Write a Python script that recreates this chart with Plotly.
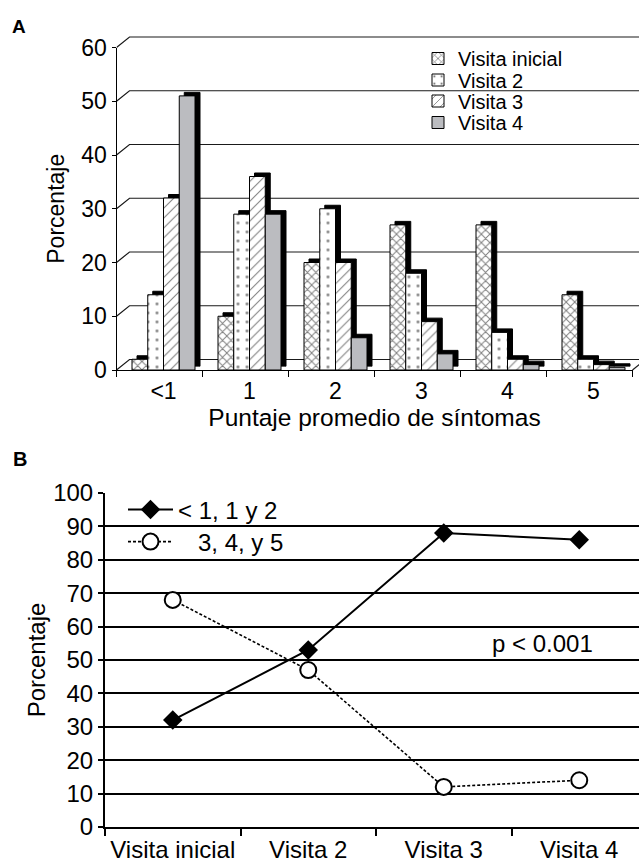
import plotly.graph_objects as go

W, H = 639, 862

# ---------------- Data ----------------
score_categories = ["<1", "1", "2", "3", "4", "5"]
visit_names = ["Visita inicial", "Visita 2", "Visita 3", "Visita 4"]
pct_visita_inicial = [2, 10, 20, 27, 27, 14]
pct_visita_2 = [14, 29, 30, 18, 7, 2]
pct_visita_3 = [32, 36, 20, 9, 2, 1]
pct_visita_4 = [51, 29, 6, 3, 1, 0.5]
bar_y_ticks = [0, 10, 20, 30, 40, 50, 60]

visit_categories = ["Visita inicial", "Visita 2", "Visita 3", "Visita 4"]
series_low_name = "< 1, 1 y 2"
series_high_name = "3, 4, y 5"
pct_low_scores = [32, 53, 88, 86]
pct_high_scores = [68, 47, 12, 14]
line_y_ticks = [0, 10, 20, 30, 40, 50, 60, 70, 80, 90, 100]

# ---------------- Styling ----------------
FONT = "Liberation Sans, Arial, Helvetica, sans-serif"
patterns = [
    dict(shape="x", size=6, solidity=0.3, fgcolor="black", bgcolor="white"),
    dict(shape=".", size=9, solidity=0.08, fgcolor="black", bgcolor="white"),
    dict(shape="/", size=7, solidity=0.15, fgcolor="black", bgcolor="white"),
    dict(shape="", fgcolor="#bbbcc0", bgcolor="#bbbcc0"),
]
fills = ["white", "white", "white", "#bbbcc0"]


def fx(p):
    return p / W


def fy(p):
    return 1 - p / H


# ---------------- Geometry of panel A (pixels) ----------------
LEFT, RIGHT, BASE, TOP = 116.5, 632.5, 370.0, 47.5
n_cat = len(score_categories)
CAT = (RIGHT - LEFT) / n_cat
PXU = (BASE - TOP) / 60.0
GROUP_FRAC = 63.0 / CAT          # fraction of a category filled by the 4 bars
BAR_SHIFT = 4.0                  # front faces sit slightly right of centre
SH_DX, SH_DY = 5.0, 3.5          # bar depth (side/top faces)
WALL_DX, WALL_DY = 13.0, 10.5    # back-wall offset

fig = go.Figure()

# ---- back wall: gridlines + 3D connector edges, built from the tick list ----
dxu, dyu = WALL_DX / CAT, WALL_DY / PXU
wall_left = LEFT + WALL_DX
wall_xmax = (W - wall_left) / CAT + 0.2
wall_x, wall_y = [], []
for v in bar_y_ticks:
    wall_x += [-dxu, 0, wall_xmax, None]
    wall_y += [v - dyu, v, v, None]
wall_x += [n_cat - dxu, n_cat, None]
wall_y += [-dyu, 0, None]
fig.add_trace(go.Scatter(
    x=wall_x, y=wall_y, mode="lines", line=dict(color="#1a1a1a", width=1.2),
    showlegend=False, hoverinfo="skip", xaxis="x", yaxis="y",
))

series_vals = [pct_visita_inicial, pct_visita_2, pct_visita_3, pct_visita_4]
n_ser = len(series_vals)
bar_w = GROUP_FRAC / n_ser
bar_offsets = [-GROUP_FRAC / 2 + i * bar_w + BAR_SHIFT / CAT for i in range(n_ser)]

# shadow (3D depth) bars: same offsets, on axes shifted by the bar depth
for i, vals in enumerate(series_vals):
    fig.add_trace(go.Bar(
        x=score_categories, y=vals, name=visit_names[i], showlegend=False,
        marker=dict(color="black", line=dict(color="black", width=1)),
        width=bar_w, offset=bar_offsets[i],
        xaxis="x2", yaxis="y2", hoverinfo="skip",
    ))

# front bars (on the front frame axes)
legend_ids = ["legend", "legend2", "legend3", "legend4"]
for i, vals in enumerate(series_vals):
    fig.add_trace(go.Bar(
        x=score_categories, y=vals, name=visit_names[i],
        marker=dict(color=fills[i], pattern=patterns[i],
                    line=dict(color="black", width=1)),
        width=bar_w, offset=bar_offsets[i],
        xaxis="x3", yaxis="y3", legend=legend_ids[i],
    ))

# panel B lines
fig.add_trace(go.Scatter(
    x=visit_categories, y=pct_low_scores, name=series_low_name,
    mode="lines+markers", line=dict(color="black", width=2),
    marker=dict(symbol="diamond", size=15, color="black"),
    xaxis="x5", yaxis="y5", legend="legend5",
))
fig.add_trace(go.Scatter(
    x=visit_categories, y=pct_high_scores,
    name="\u00a0\u00a0\u00a0" + series_high_name,
    mode="lines+markers", line=dict(color="black", width=1.6, dash="3px,2px"),
    marker=dict(symbol="circle", size=16, color="white",
                line=dict(color="black", width=2)),
    xaxis="x5", yaxis="y5", legend="legend6",
))

# ---------------- Axes ----------------
wall_base = BASE - WALL_DY
y_lo, y_hi = -2.5, 60.5
xa_wall = dict(domain=[fx(LEFT), 1], range=[-dxu, (W - LEFT) / CAT - dxu],
               visible=False, anchor="y")
ya_wall = dict(domain=[fy(wall_base - y_lo * PXU), fy(wall_base - y_hi * PXU)],
               range=[y_lo, y_hi], visible=False, anchor="x")

# shadow axes (same scale as the front, shifted by the bar depth)
xa_sh = dict(domain=[fx(LEFT + SH_DX), 1], type="category",
             range=[-0.5, -0.5 + (W - LEFT - SH_DX) / CAT], visible=False,
             anchor="y2")
ya_sh = dict(domain=[fy(BASE - SH_DY), fy(BASE - SH_DY - 60 * PXU)],
             range=[0, 60], visible=False, anchor="x2")

# front axes
xa_fr = dict(domain=[fx(LEFT), fx(RIGHT)], type="category",
             range=[-0.5, n_cat - 0.5], tickson="boundaries",
             ticks="outside", ticklen=6, tickcolor="black", tickwidth=1,
             showline=True, linecolor="black", linewidth=1,
             showgrid=False, zeroline=False, ticklabelshift=4,
             tickfont=dict(size=23, color="black"),
             title=dict(text="Puntaje promedio de síntomas",
                        font=dict(size=24.5, color="black"), standoff=4),
             anchor="y3")
ya_fr = dict(domain=[fy(BASE), fy(TOP)], range=[0, 60],
             tickvals=bar_y_ticks, ticks="outside", ticklen=4,
             tickcolor="black", showline=True, linecolor="black",
             linewidth=1, showgrid=False, zeroline=False,
             tickfont=dict(size=23, color="black"),
             title=dict(text="Porcentaje", font=dict(size=23, color="black"),
                        standoff=10),
             anchor="x3")

# panel B axes
B_LEFT, B_BASE, B_TOP = 105.0, 827.0, 493.0
B_CAT = 135.5
xa_b = dict(domain=[fx(B_LEFT), 1], type="category",
            range=[-0.5, -0.5 + (W - B_LEFT) / B_CAT],
            tickson="boundaries", ticks="outside", ticklen=7,
            tickcolor="black", tickwidth=2, showline=True, linecolor="black",
            linewidth=2, showgrid=False, zeroline=False,
            tickfont=dict(size=24, color="black"), anchor="y5")
ya_b = dict(domain=[fy(B_BASE), fy(B_TOP)], range=[0, 100],
            tickvals=line_y_ticks, ticks="outside", ticklen=5,
            tickcolor="black", tickwidth=2, showline=True, linecolor="black",
            linewidth=2, showgrid=True, gridcolor="black", gridwidth=1.6,
            zeroline=False, tickfont=dict(size=24, color="black"),
            title=dict(text="Porcentaje", font=dict(size=24, color="black"),
                       standoff=1),
            anchor="x5")


def legend_at(x_px, y_px, size, itemwidth=30):
    return dict(x=fx(x_px), y=fy(y_px), xanchor="left", yanchor="middle",
                bgcolor="rgba(0,0,0,0)", borderwidth=0,
                font=dict(size=size, color="black", family=FONT),
                itemwidth=itemwidth, tracegroupgap=0)


fig.update_layout(
    width=W, height=H,
    margin=dict(l=0, r=0, t=0, b=0, autoexpand=False),
    paper_bgcolor="white", plot_bgcolor="rgba(0,0,0,0)",
    font=dict(family=FONT, color="black"),
    barmode="group", bargap=1 - GROUP_FRAC, bargroupgap=0,
    xaxis=xa_wall, yaxis=ya_wall,
    xaxis2=xa_sh, yaxis2=ya_sh,
    xaxis3=xa_fr, yaxis3=ya_fr,
    xaxis5=xa_b, yaxis5=ya_b,
    legend=legend_at(418, 58.5, 20),
    legend2=legend_at(418, 80, 20),
    legend3=legend_at(418, 101, 20),
    legend4=legend_at(418, 122.5, 20),
    legend5=legend_at(123, 510, 24, itemwidth=45),
    legend6=legend_at(123, 542, 24, itemwidth=45),
    annotations=[
        dict(text="<b>A</b>", x=fx(10), y=fy(26), xref="paper", yref="paper",
             xanchor="left", yanchor="middle", showarrow=False,
             font=dict(size=19, color="black")),
        dict(text="<b>B</b>", x=fx(11), y=fy(459), xref="paper", yref="paper",
             xanchor="left", yanchor="middle", showarrow=False,
             font=dict(size=20, color="black")),
        dict(text="p < 0.001", x=fx(542), y=fy(643), xref="paper",
             yref="paper", xanchor="center", yanchor="middle",
             showarrow=False, font=dict(size=24, color="black")),
    ],
)

fig.write_html("out.html")
